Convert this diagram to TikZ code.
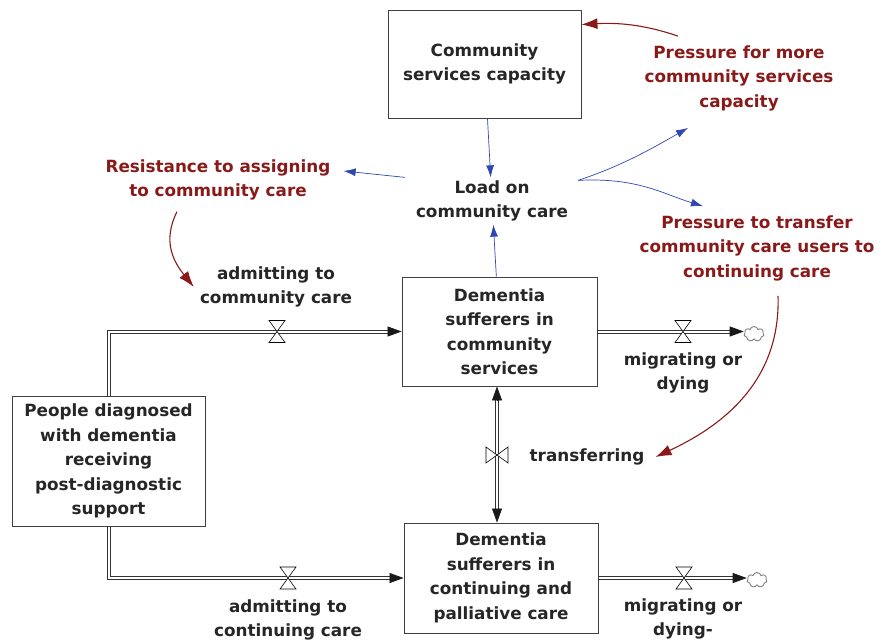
\documentclass[tikz,border=0pt]{standalone}
\usepackage{fontspec}
\setmainfont{DejaVu Sans}
\usetikzlibrary{arrows.meta,shapes.symbols}

\definecolor{linkblue}{RGB}{48,70,178}
\definecolor{linkred}{RGB}{138,26,26}

\tikzset{
  txt/.style={font=\fontsize{16.8}{24.5}\selectfont\bfseries,text=black!85},
  stock/.style={txt,draw=black!75,line width=.9pt,align=center,inner sep=0pt},
  lbl/.style={txt,align=center,inner sep=3pt},
  redlbl/.style={lbl,text=linkred},
  rail/.style={draw=black!80,line width=.7pt},
  pipetip/.style={-{Triangle[length=14pt,width=10pt]},line width=.7pt,black!90},
  link/.style={-{Latex[length=12pt,width=8pt]},line width=.7pt,linkblue},
  rlink/.style={-{Latex[length=16pt,width=11pt]},line width=1.1pt,linkred},
  sink/.style={cloud,cloud puffs=7,draw=gray,line width=.9pt,minimum width=20pt,minimum height=15pt,inner sep=0pt},
  valve/.pic={
    \draw[fill=white,line width=.6pt] (-8,-11) -- (8,-11) -- (0,0) -- cycle
      (-8,11) -- (8,11) -- (0,0) -- cycle;
  }
}

\begin{document}
\begin{tikzpicture}[x=1pt,y=1pt]
\useasboundingbox (0,0) rectangle (890,-643);

% stocks
\node[stock,minimum width=193,minimum height=108] (capacity) at (484.5,-64) {Community\\services capacity};
\node[stock,minimum width=195,minimum height=109] (commSuff) at (499.5,-331.5) {Dementia\\sufferers in\\community\\services};
\node[stock,minimum width=193,minimum height=130] (people) at (108.5,-461) {People diagnosed\\with dementia\\receiving\\post-diagnostic\\support};
\node[stock,minimum width=194,minimum height=110] (contSuff) at (501,-578) {Dementia\\sufferers in\\continuing and\\palliative care};

% auxiliaries
\node[lbl] (load) at (492,-201) {Load on\\community care};
\node[redlbl] (resist) at (218,-180) {Resistance to assigning\\to community care};
\node[redlbl] (pressMore) at (739,-78) {Pressure for more\\community services\\capacity};
\node[redlbl] (pressTrans) at (757,-248) {Pressure to transfer\\community care users to\\continuing care};

% flow names
\node[lbl] (admitComm) at (276,-287) {admitting to\\community care};
\node[lbl] (migrOne) at (683,-373) {migrating or\\dying};
\node[lbl] (transf) at (587,-457) {transferring};
\node[lbl] (admitCont) at (288,-620) {admitting to\\continuing care};
\node[lbl] (migrTwo) at (683,-619) {migrating or\\dying-};

% sinks
\node[sink] (sinkOne) at (754,-334) {};
\node[sink] (sinkTwo) at (757,-580) {};

% inflows: two rails each, outer and inner
\draw[rail] ([xshift=-1.6]people.north) |- ([shift={(-12,1.6)}]commSuff.west);
\draw[rail] ([xshift=1.6]people.north) |- ([shift={(-12,-1.6)}]commSuff.west);
\draw[pipetip] ([xshift=-14]commSuff.west) -- (commSuff.west);
\draw[rail] ([xshift=-1.6]people.south) |- ([shift={(-12,-1.6)}]contSuff.west);
\draw[rail] ([xshift=1.6]people.south) |- ([shift={(-12,1.6)}]contSuff.west);
\draw[pipetip] ([xshift=-14]contSuff.west) -- (contSuff.west);

% outflows
\draw[rail] ([yshift=1.6]commSuff.east) -- ([shift={(-12,1.6)}]commSuff.east -| sinkOne.west);
\draw[rail] ([yshift=-1.6]commSuff.east) -- ([shift={(-12,-1.6)}]commSuff.east -| sinkOne.west);
\draw[pipetip] ([xshift=-14]commSuff.east -| sinkOne.west) -- (commSuff.east -| sinkOne.west);
\draw[rail] ([yshift=1.6]contSuff.east) -- ([shift={(-12,1.6)}]contSuff.east -| sinkTwo.west);
\draw[rail] ([yshift=-1.6]contSuff.east) -- ([shift={(-12,-1.6)}]contSuff.east -| sinkTwo.west);
\draw[pipetip] ([xshift=-14]contSuff.east -| sinkTwo.west) -- (contSuff.east -| sinkTwo.west);

% transfer, both ways
\draw[rail] ([shift={(-4.1,-12)}]commSuff.south) -- ([shift={(-5.6,12)}]contSuff.north);
\draw[rail] ([shift={(-0.9,-12)}]commSuff.south) -- ([shift={(-2.4,12)}]contSuff.north);
\draw[pipetip] ([xshift=-2.5,yshift=-14]commSuff.south) -- ([xshift=-2.5]commSuff.south);
\draw[pipetip] ([xshift=-4,yshift=14]contSuff.north) -- ([xshift=-4]contSuff.north);

% valves
\path (277,-331.5) pic {valve};
\path (683,-331.5) pic {valve};
\path (288,-578) pic {valve};
\path (684,-578) pic {valve};
\path (497,-455) pic[rotate=90] {valve};

% links
\draw[link] (capacity) -- (load);
\draw[link] (commSuff) -- (load);
\draw[link] ([xshift=-8]load.north west) -- ([shift={(10,9)}]resist.east);
\draw[link] ([shift={(7,-3)}]load.north east) .. controls +(45,15) and +(-35,-20) .. ([shift={(-51,-14)}]pressMore.south);
\draw[link] ([shift={(7,-3)}]load.north east) .. controls +(60,3) and +(-40,12) .. ([shift={(-54,6)}]pressTrans.north);
\draw[rlink] ([shift={(-61,6)}]pressMore.north) .. controls +(-35,12) and +(35,2) .. ([yshift=-15]capacity.north east);
\draw[rlink] ([shift={(-41,-8)}]resist.south) .. controls +(-15,-30) and +(-20,25) .. ([xshift=-3]admitComm.west);
\draw[rlink] ([shift={(21,-12)}]pressTrans.south) .. controls +(3,-90) and +(60,28) .. ([xshift=8]transf.east);
\end{tikzpicture}
\end{document}
